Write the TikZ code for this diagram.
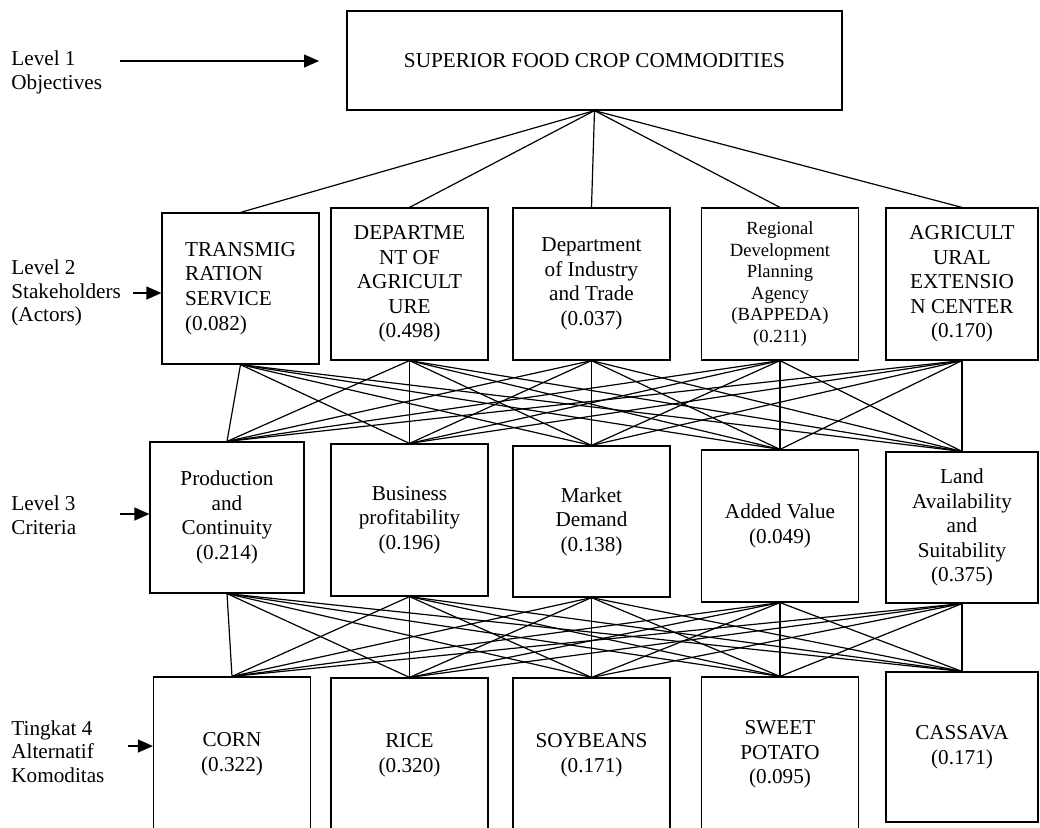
\documentclass[tikz,border=0pt]{standalone}
\usepackage{fontspec}
\setmainfont{Liberation Serif}
\usetikzlibrary{arrows.meta}
\begin{document}
\begin{tikzpicture}[x=0.5pt, y=-0.5pt, >={Triangle[length=7.5pt,width=6.5pt]},
  box/.style={draw, line width=0.6pt, inner sep=0pt, align=center,
    font=\fontsize{10.6}{12.3}\selectfont, minimum width=78.5pt, minimum height=76pt},
  lvl/.style={anchor=west, align=left, inner sep=0pt, font=\fontsize{10.6}{11.8}\selectfont},
  wire/.style={line width=0.6pt}]
\useasboundingbox (0,0) rectangle (1040,827);

\node[box, minimum width=247.5pt, minimum height=49.5pt] (goal) at (594.5,60.5) {SUPERIOR FOOD CROP COMMODITIES};

\node[box, align=left, minimum height=75.5pt] (a1) at (240.5,288.5) {TRANSMIG\\RATION\\SERVICE\\(0.082)};
\node[box] (a2) at (409.5,284) {DEPARTME\\NT OF\\AGRICULT\\URE\\(0.498)};
\node[box] (a3) at (591.5,284) {Department\\of Industry\\and Trade\\(0.037)};
\node[box, font=\fontsize{9.3}{10.8}\selectfont] (a4) at (780,284) {Regional\\Development\\Planning\\Agency\\(BAPPEDA)\\(0.211)};
\node[box, minimum width=76pt] (a5) at (962,284) {AGRICULT\\URAL\\EXTENSIO\\N CENTER\\(0.170)};

\node[box, minimum width=77pt, minimum height=75.5pt] (c1) at (227,517.5) {Production\\and\\Continuity\\(0.214)};
\node[box] (c2) at (409.5,520) {Business\\profitability\\(0.196)};
\node[box, minimum height=75.5pt] (c3) at (591.5,521.5) {Market\\Demand\\(0.138)};
\node[box] (c4) at (780,526) {Added Value\\(0.049)};
\node[box, minimum width=76pt, minimum height=75.5pt] (c5) at (962,527.5) {Land\\Availability\\and\\Suitability\\(0.375)};

\node[box, minimum height=77.5pt] (k1) at (232,754.5) {CORN\\(0.322)};
\node[box, minimum height=77pt] (k2) at (409.5,755) {RICE\\(0.320)};
\node[box, minimum height=77pt] (k3) at (591.5,755) {SOYBEANS\\(0.171)};
\node[box, minimum height=77.5pt] (k4) at (780,754.5) {SWEET\\POTATO\\(0.095)};
\node[box, minimum width=76pt, minimum height=75pt] (k5) at (962,747) {CASSAVA\\(0.171)};

\node[lvl] (l1) at (11,72.5) {Level 1\\Objectives};
\node[lvl] (l2) at (11,293) {Level 2\\Stakeholders\\(Actors)};
\node[lvl] (l3) at (11,515) {Level 3\\Criteria};
\node[lvl] (l4) at (11,751.5) {Tingkat 4\\Alternatif\\Komoditas};

\coordinate (p1) at (120,61);
\coordinate (q1) at (319,61);
\coordinate (p2) at (133,293);
\coordinate (p3) at (120,514);
\coordinate (p4) at (128,746);
\draw[wire,->] (p1)--(q1);
\draw[wire,->] (p2)--(a1.west |- p2);
\draw[wire,->] (p3)--(c1.west |- p3);
\draw[wire,->] (p4)--(k1.west |- p4);

\foreach \i in {1,...,5}
{
    \draw[wire] (goal.south)--(a\i.north);
}
\foreach \i in {1,...,5}
{
    \foreach \j in {1,...,5}
    {
        \draw[wire] (a\i.south)--(c\j.north);
        \draw[wire] (c\i.south)--(k\j.north);
    }
}

\end{tikzpicture}
\end{document}
